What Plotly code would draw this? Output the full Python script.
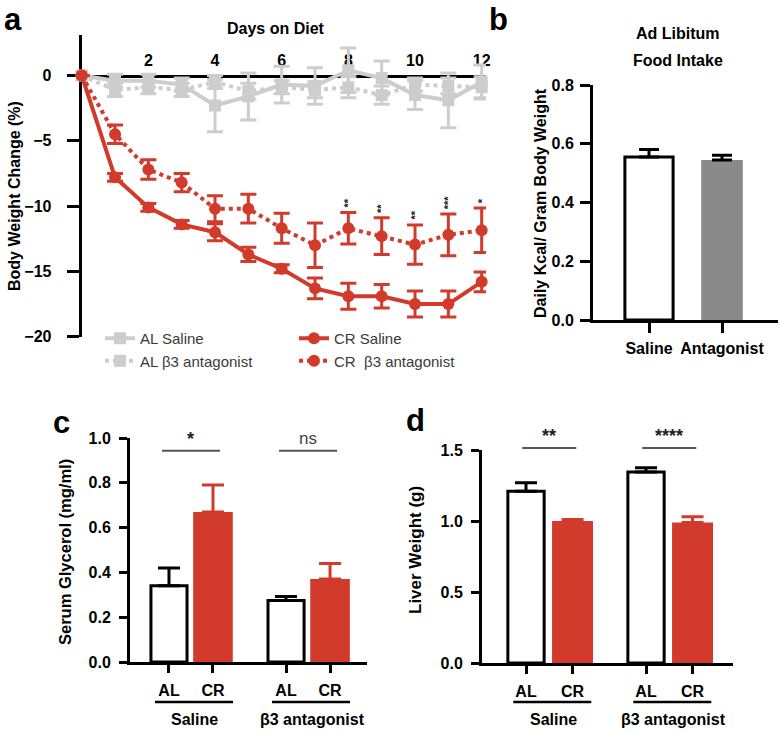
import plotly.graph_objects as go

# ---------------- data ----------------
days = list(range(13))
al_saline = [0, -0.4, -0.4, -0.7, -2.3, -1.6, -0.7, -0.8, 0.4, -0.2, -1.5, -1.9, -0.5]
al_saline_err = [0, 0.5, 0.5, 0.5, 2.0, 1.8, 1.4, 1.4, 1.7, 1.3, 1.1, 2.1, 1.3]
al_b3 = [0, -1.1, -0.9, -1.1, -0.5, -1.2, -0.9, -1.1, -0.9, -1.5, -0.7, -0.8, -0.9]
al_b3_err = [0, 0.5, 0.5, 0.5, 0.5, 0.6, 0.5, 0.6, 0.8, 0.7, 0.5, 0.6, 0.8]
cr_saline = [0, -7.8, -10.1, -11.4, -12.0, -13.7, -14.8, -16.3, -16.9, -16.9, -17.5, -17.5, -15.8]
cr_saline_err = [0, 0.3, 0.3, 0.3, 0.65, 0.55, 0.3, 0.8, 1.0, 0.9, 1.0, 1.0, 0.75]
cr_b3 = [0, -4.5, -7.2, -8.2, -10.2, -10.2, -11.7, -13.0, -11.7, -12.3, -12.95, -12.2, -11.85]
cr_b3_err = [0, 0.7, 0.75, 0.7, 1.0, 1.1, 1.15, 1.7, 1.2, 1.4, 1.5, 1.6, 1.7]
sig_days = [8, 9, 10, 11, 12]
sig_labels = ["**", "**", "**", "***", "*"]
day_ticks = [2, 4, 6, 8, 10, 12]
bw_ticks = [0, -5, -10, -15, -20]

intake_groups = ["Saline", "Antagonist"]
intake_values = [0.555, 0.545]
intake_err = [0.025, 0.016]

treatments = ["Saline", "β3 antagonist"]
diets = ["AL", "CR"]
glycerol_al = [0.34, 0.275]
glycerol_al_err = [0.08, 0.017]
glycerol_cr = [0.67, 0.37]
glycerol_cr_err = [0.12, 0.07]
glycerol_sig = ["*", "ns"]
liver_al = [1.21, 1.345]
liver_al_err = [0.06, 0.03]
liver_cr = [1.0, 0.99]
liver_cr_err = [0.01, 0.04]
liver_sig = ["**", "****"]

# ---------------- styling / layout helpers ----------------
W, H = 781, 731
FONT = "Liberation Sans, Arial, Helvetica, sans-serif"
RED = "#d23a2b"
LGRAY = "#cdcdcd"
BARGRAY = "#8a8a8a"


def fx(p):
    return p / W


def fy(p):
    return 1 - p / H


def to_px(v, dom, rng):
    return dom[0] + (v - rng[0]) / (rng[1] - rng[0]) * (dom[1] - dom[0])


# panel pixel boxes
A_X, A_Y = (81.7, 486.0), (35.0, 336.7)
A_XR, A_YR = [0, 12.13], [-20, 3.1]
B_X, B_Y = (593.0, 778.0), (85.0, 320.0)
B_XR, B_YR = [-0.767, 1.767], [0, 0.8]
C_X, C_Y = (130.0, 367.0), (438.0, 662.0)
C_GAP = 2.66
C_XR, C_YR = [-0.886, 4.5], [0, 1.0]
D_X, D_Y = (482.0, 733.0), (450.0, 663.0)
D_GAP = 2.58
D_XR, D_YR = [-0.946, 4.45], [0, 1.5]

bold = dict(family=FONT, size=16, color="black", weight="bold")

fig = go.Figure()

# ---------------- panel a ----------------
def line_trace(y, err, color, dash, symbol, name, legend):
    return go.Scatter(
        x=days, y=y, name=name, legend=legend,
        mode="lines+markers",
        line=dict(color=color, width=4, dash=dash),
        marker=dict(symbol=symbol, size=12, color=color),
        error_y=dict(type="data", array=err, color=color, thickness=3, width=8),
        cliponaxis=False, xaxis="x", yaxis="y",
    )

fig.add_trace(line_trace(al_saline, al_saline_err, LGRAY, "solid", "square", "AL Saline", "legend"))
fig.add_trace(line_trace(al_b3, al_b3_err, LGRAY, "dot", "square", "AL β3 antagonist", "legend"))
fig.add_trace(line_trace(cr_saline, cr_saline_err, RED, "solid", "circle", "CR Saline", "legend2"))
fig.add_trace(line_trace(cr_b3, cr_b3_err, RED, "dot", "circle", "CR\u00a0 β3 antagonist", "legend2"))

annotations = []
for d, lab in zip(sig_days, sig_labels):
    i = days.index(d)
    annotations.append(dict(
        x=d, y=cr_b3[i] + cr_b3_err[i], xref="x", yref="y",
        text=lab, showarrow=False, yanchor="bottom", textangle=-90,
        yshift=3, font=dict(family=FONT, size=11, color="#222", weight="bold"),
    ))

# ---------------- panel b ----------------
fig.add_trace(go.Bar(
    x=[0], y=[intake_values[0]], width=0.66, showlegend=False,
    marker=dict(color="white", line=dict(color="black", width=3)),
    error_y=dict(type="data", array=[intake_err[0]], arrayminus=[0], symmetric=False,
                 color="black", thickness=3, width=10),
    xaxis="x2", yaxis="y2",
))
fig.add_trace(go.Bar(
    x=[1], y=[intake_values[1]], width=0.57, showlegend=False,
    marker=dict(color=BARGRAY, line=dict(width=0)),
    error_y=dict(type="data", array=[intake_err[1]], arrayminus=[0], symmetric=False,
                 color="black", thickness=3, width=10),
    xaxis="x2", yaxis="y2",
))

# ---------------- panels c & d ----------------
shapes = []


def bar_panel(xa, ya, gap, al, al_err, cr, cr_err, sig, dom_x, rng_x, w_al, w_cr, sig_y_px, sig_half):
    al_pos = [g * gap for g in range(len(treatments))]
    cr_pos = [g * gap + 1 for g in range(len(treatments))]
    fig.add_trace(go.Bar(
        x=al_pos, y=al, width=w_al, showlegend=False,
        marker=dict(color="white", line=dict(color="black", width=3)),
        error_y=dict(type="data", array=al_err, arrayminus=[0] * len(al), symmetric=False,
                     color="black", thickness=3, width=11),
        xaxis=xa, yaxis=ya,
    ))
    fig.add_trace(go.Bar(
        x=cr_pos, y=cr, width=w_cr, showlegend=False,
        marker=dict(color=RED, line=dict(width=0)),
        error_y=dict(type="data", array=cr_err, arrayminus=[0] * len(cr), symmetric=False,
                     color=RED, thickness=3, width=11),
        xaxis=xa, yaxis=ya,
    ))
    for g, tname in enumerate(treatments):
        cx = (to_px(al_pos[g], dom_x, rng_x) + to_px(cr_pos[g], dom_x, rng_x)) / 2
        # group underline
        shapes.append(dict(type="line", xref="paper", yref="paper",
                           x0=fx(cx + 3 - 39), x1=fx(cx + 3 + 39), y0=fy(702), y1=fy(702),
                           line=dict(color="black", width=2.5)))
        annotations.append(dict(x=fx(cx + 4), y=fy(719), xref="paper", yref="paper",
                                text=tname, showarrow=False, font=bold,
                                xanchor="center", yanchor="middle"))
        # significance bar
        shapes.append(dict(type="line", xref="paper", yref="paper",
                           x0=fx(cx - sig_half), x1=fx(cx + sig_half),
                           y0=fy(sig_y_px), y1=fy(sig_y_px),
                           line=dict(color="#555", width=2)))
        if sig[g] == "ns":
            f = dict(family=FONT, size=17, color="#444")
        else:
            f = dict(family=FONT, size=18, color="#222", weight="bold")
        annotations.append(dict(x=fx(cx), y=fy(sig_y_px - 12), xref="paper", yref="paper",
                                text=sig[g], showarrow=False, font=f,
                                xanchor="center", yanchor="middle"))
    return sorted(al_pos + cr_pos)


c_ticks = bar_panel("x3", "y3", C_GAP, glycerol_al, glycerol_al_err, glycerol_cr, glycerol_cr_err,
                    glycerol_sig, C_X, C_XR, 0.82, 0.9, 450.7, 29)
d_ticks = bar_panel("x4", "y4", D_GAP, liver_al, liver_al_err, liver_cr, liver_cr_err,
                    liver_sig, D_X, D_XR, 0.78, 0.88, 448.0, 27)

# ---------------- text annotations ----------------
def add_text(x, y, text, font, angle=0, yanchor="middle"):
    annotations.append(dict(x=fx(x), y=fy(y), xref="paper", yref="paper", text=text,
                            showarrow=False, font=font, textangle=angle,
                            xanchor="center", yanchor=yanchor))

letter = dict(family=FONT, size=31, color="black", weight="bold")
add_text(13, 0, "a", letter, yanchor="top")
add_text(498, 0, "b", letter, yanchor="top")
add_text(62, 422, "c", letter)
add_text(415, 420, "d", letter)

title_font = dict(family=FONT, size=16, color="black", weight="bold")
add_text(276, 28, "Days on Diet", title_font)
add_text(15, 196, "Body Weight Change (%)", title_font, -90)
add_text(540, 203, "Daily Kcal/ Gram Body Weight", title_font, -90)
add_text(678, 33, "Ad Libitum", title_font)
add_text(678, 60, "Food Intake", title_font)
add_text(65, 552, "Serum Glycerol (mg/ml)", dict(title_font, size=16.5), -90)
add_text(415, 550, "Liver Weight (g)", dict(title_font, size=17), -90)

# ---------------- axes ----------------
axis_common = dict(showline=True, linecolor="black", linewidth=3, showgrid=False,
                   zeroline=False, tickcolor="black", tickwidth=3, tickfont=bold)

legend_font = dict(family=FONT, size=15, color="#3a3a3a")
layout = dict(
    width=W, height=H, margin=dict(l=0, r=0, t=0, b=0, autoexpand=False),
    paper_bgcolor="white", plot_bgcolor="rgba(0,0,0,0)",
    barmode="overlay", font=dict(family=FONT),
    annotations=annotations, shapes=shapes,
    legend=dict(x=fx(100), y=fy(322), xanchor="left", yanchor="top", font=legend_font,
                bgcolor="rgba(0,0,0,0)", itemwidth=30, tracegroupgap=0),
    legend2=dict(x=fx(294), y=fy(322), xanchor="left", yanchor="top", font=legend_font,
                 bgcolor="rgba(0,0,0,0)", itemwidth=30, tracegroupgap=0),
    xaxis=dict(axis_common, domain=[fx(A_X[0]), fx(A_X[1])], range=A_XR,
               anchor="free", position=fy(75.5), side="top",
               tickvals=day_ticks, ticks="", ticklabelstandoff=2, layer="below traces"),
    yaxis=dict(axis_common, domain=[fy(A_Y[1]), fy(A_Y[0])], range=A_YR, anchor="x",
               tickvals=bw_ticks, ticks="outside", ticklen=12, ticklabelstandoff=12,
               layer="below traces"),
    xaxis2=dict(axis_common, domain=[fx(B_X[0]), fx(B_X[1])], range=B_XR, anchor="y2",
                tickvals=[0, 1], ticktext=intake_groups, ticks="outside", ticklen=10,
                ticklabelstandoff=2),
    yaxis2=dict(axis_common, domain=[fy(B_Y[1]), fy(B_Y[0])], range=B_YR, anchor="x2",
                tickvals=[0, 0.2, 0.4, 0.6, 0.8], tickformat=".1f", ticks="outside",
                ticklen=10, ticklabelstandoff=3),
    xaxis3=dict(axis_common, domain=[fx(C_X[0]), fx(C_X[1])], range=C_XR, anchor="y3",
                tickvals=c_ticks, ticktext=diets * len(treatments), ticks="outside",
                ticklen=8, ticklabelstandoff=4),
    yaxis3=dict(axis_common, domain=[fy(C_Y[1]), fy(C_Y[0])], range=C_YR, anchor="x3",
                tickvals=[0, 0.2, 0.4, 0.6, 0.8, 1.0], tickformat=".1f", ticks="outside",
                ticklen=8, ticklabelstandoff=5),
    xaxis4=dict(axis_common, domain=[fx(D_X[0]), fx(D_X[1])], range=D_XR, anchor="y4",
                tickvals=d_ticks, ticktext=diets * len(treatments), ticks="outside",
                ticklen=8, ticklabelstandoff=4),
    yaxis4=dict(axis_common, domain=[fy(D_Y[1]), fy(D_Y[0])], range=D_YR, anchor="x4",
                tickvals=[0, 0.5, 1.0, 1.5], tickformat=".1f", ticks="outside",
                ticklen=8, ticklabelstandoff=5),
)
fig.update_layout(**layout)

# remove the browser's default 8px body margin so the figure sits at the window corner
fig.write_html("out.html", config={"displayModeBar": False},
               post_script="document.body.style.margin='0';")
